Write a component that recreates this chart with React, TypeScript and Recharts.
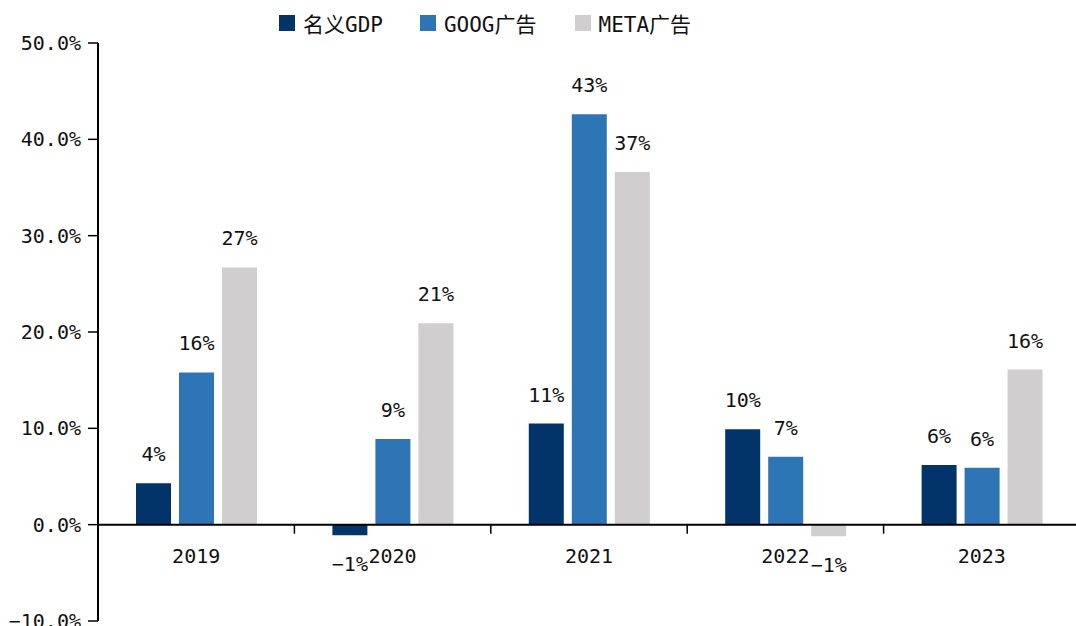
import React from "react";
import { BarChart, Bar, XAxis, YAxis, ReferenceLine, LabelList } from "recharts";

const years = ["2019", "2020", "2021", "2022", "2023"];
const gdp = [4.3, -1.1, 10.5, 9.9, 6.2];
const goog = [15.8, 8.9, 42.6, 7.05, 5.9];
const meta = [26.7, 20.9, 36.6, -1.2, 16.1];
const yTicks = [-10, 0, 10, 20, 30, 40, 50];

const seriesNames = ["名义GDP", "GOOG广告", "META广告"];
const seriesKeys = ["gdp", "goog", "meta"];
const seriesColors = ["#02346A", "#2E75B6", "#D0CECF"];

const data = years.map((y, i) => ({ year: y, gdp: gdp[i], goog: goog[i], meta: meta[i] }));

const W = 1084;
const H = 626;
const XH = 2;
const M = { top: 43, right: 4, bottom: 3, left: 0 };
const YW = 98;
const Y_MIN = -10;
const Y_MAX = 50;
const PLOT_H = H - M.top - M.bottom - XH;
const PLOT_W = W - M.left - M.right - YW;
const ZERO_Y = M.top + ((Y_MAX - 0) / (Y_MAX - Y_MIN)) * PLOT_H;
const BAND = PLOT_W / years.length;
const FONT = "'DejaVu Sans Mono', 'Noto Sans CJK SC', monospace";

const minus = (s: string) => s.replace("-", "\u2212");

const XTick = (props: any) => {
  const { x, payload } = props;
  return (
    <g>
      <line x1={x - BAND / 2} x2={x - BAND / 2} y1={ZERO_Y} y2={ZERO_Y + 9} stroke="#000" strokeWidth={1.5} />
      <text x={x} y={ZERO_Y + 31} textAnchor="middle" dominantBaseline="central" fontSize={20} fontFamily={FONT} fill="#111">
        {payload.value}
      </text>
    </g>
  );
};

const ValueLabel = (props: any) => {
  const { x, y, width, height, value } = props;
  const top = Math.min(y, y + height);
  const bottom = Math.max(y, y + height);
  const cy = value >= 0 ? top - 29 : bottom + 29;
  return (
    <text x={x + width / 2} y={cy} textAnchor="middle" dominantBaseline="central" fontSize={20} fontFamily={FONT} fill="#111">
      {minus(Math.round(value) + "%")}
    </text>
  );
};

export default function App() {
  return (
    <div style={{ position: "absolute", left: 0, top: 0, width: 1076, height: 626, overflow: "hidden", background: "#fff" }}>
      <div style={{ position: "absolute", top: 8, left: 279, display: "flex", alignItems: "center", fontFamily: FONT, fontSize: 21, color: "#111", whiteSpace: "nowrap", zIndex: 2 }}>
        {seriesNames.map((n, i) => (
          <div key={n} style={{ display: "flex", alignItems: "center", marginRight: i === 0 ? 37 : 38 }}>
            <div style={{ width: 16, height: 16, background: seriesColors[i], marginRight: 8 }} />
            <span>{n}</span>
          </div>
        ))}
      </div>
      <BarChart width={W} height={H} data={data} margin={M} barGap={8} barCategoryGap={37}>
        <YAxis
          width={YW}
          domain={[Y_MIN, Y_MAX]}
          ticks={yTicks}
          interval={0}
          tickFormatter={(v: number) => minus(v.toFixed(1) + "%")}
          axisLine={{ stroke: "#000", strokeWidth: 2 }}
          tickLine={{ stroke: "#000", strokeWidth: 1.5 }}
          tickSize={10}
          tickMargin={7}
          tick={{ fontSize: 20, fontFamily: FONT, fill: "#111" }}
        />
        <XAxis dataKey="year" height={XH} axisLine={false} tickLine={false} tick={<XTick />} interval={0} />
        <ReferenceLine y={0} stroke="#000" strokeWidth={2} />
        {seriesKeys.map((k, i) => (
          <Bar key={k} dataKey={k} name={seriesNames[i]} fill={seriesColors[i]} barSize={35} isAnimationActive={false}>
            <LabelList dataKey={k} content={<ValueLabel />} />
          </Bar>
        ))}
      </BarChart>
    </div>
  );
}
